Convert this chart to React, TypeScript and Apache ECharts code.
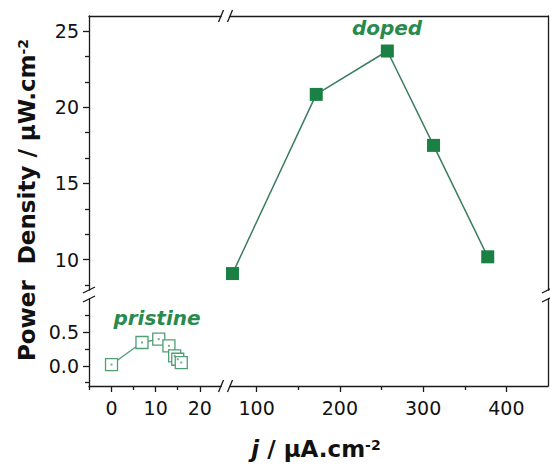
import React, { useEffect, useRef } from 'react';
import * as echarts from 'echarts';

// ---- data ----
const pristineJ = [0, 6.9, 10.7, 13.0, 14.3, 15.0, 15.8];
const pristineP = [0.02, 0.35, 0.4, 0.3, 0.15, 0.1, 0.05];
const dopedJ = [71, 171.6, 257, 312.5, 377.6];
const dopedP = [9.08, 20.85, 23.7, 17.5, 10.18];

// ---- ticks ----
const lowXMajor = [0, 10, 20];
const lowXMinor = [-5, 5, 15];
const highXMajor = [100, 200, 300, 400];
const highXMinor = [150, 250, 350];
const lowYMajor = [0, 0.5];
const lowYMinor = [-0.25, 0.25, 0.75];
const highYMajor = [10, 15, 20, 25];
const highYMinor = [8.333, 11.667, 13.333, 16.667, 18.333, 21.667, 23.333];

const FONT = 'DejaVu Sans';
const AX = '#1a1a1a';
const DOPED_FILL = '#1a8043';
const DOPED_LINE = '#3b7d5f';
const PRIS = '#4f9e74';
const TEXT_GREEN = '#2a8a4e';

// layout (pixels)
const L = 89, R = 548, T = 16, B = 386;
const XB1 = 221, XB2 = 230; // x break
const YB1 = 290, YB2 = 299; // y break

function ax(o: any) {
  return {
    type: 'value',
    min: o.min,
    max: o.max,
    gridIndex: o.grid,
    position: o.pos,
    offset: o.offset || 0,
    axisLine: { show: !!o.line, onZero: false, lineStyle: { color: AX, width: 1.3 } },
    axisTick: o.ticks
      ? { show: true, inside: false, length: o.len, customValues: o.ticks, lineStyle: { color: AX, width: 1.3 } }
      : { show: false },
    axisLabel: o.labels
      ? {
          show: true,
          customValues: o.labels,
          color: '#111',
          fontFamily: FONT,
          fontSize: 19,
          margin: o.margin || 10,
          formatter: o.fmt,
        }
      : { show: false },
    splitLine: { show: false },
    minorTick: { show: false },
    minorSplitLine: { show: false },
  };
}

export default function App() {
  const ref = useRef<HTMLDivElement>(null);
  useEffect(() => {
    if (!ref.current) return;
    const chart = echarts.init(ref.current, undefined, { renderer: 'svg' });
    const lowX = { min: -5.1, max: 24.8 };
    const highX = { min: 68, max: 450 };
    const lowY = { min: -0.3, max: 1.0 };
    const highY = { min: 8, max: 26 };

    const slashV = (cx: number, cy: number) => ({
      type: 'line',
      shape: { x1: cx - 2.5, y1: cy + 6, x2: cx + 2.5, y2: cy - 6 },
      style: { stroke: AX, lineWidth: 1.3 },
    });
    const slashH = (cx: number, cy: number) => ({
      type: 'line',
      shape: { x1: cx - 6, y1: cy + 3, x2: cx + 6, y2: cy - 3 },
      style: { stroke: AX, lineWidth: 1.3 },
    });

    chart.setOption({
      animation: false,
      backgroundColor: '#fff',
      grid: [
        { left: L, top: YB2, width: XB1 - L, height: B - YB2 },
        { left: XB2, top: T, width: R - XB2, height: YB1 - T },
      ],
      xAxis: [
        ax({ ...lowX, grid: 0, pos: 'bottom', line: true, ticks: lowXMajor, len: 6, labels: lowXMajor, margin: 12 }),
        ax({ ...lowX, grid: 0, pos: 'bottom', ticks: lowXMinor, len: 4 }),
        ax({ ...lowX, grid: 0, pos: 'top', offset: YB2 - T, line: true }),
        ax({ ...highX, grid: 1, pos: 'bottom', offset: B - YB1, line: true, ticks: highXMajor, len: 6, labels: highXMajor, margin: 12 }),
        ax({ ...highX, grid: 1, pos: 'bottom', offset: B - YB1, ticks: highXMinor, len: 4 }),
        ax({ ...highX, grid: 1, pos: 'top', line: true }),
      ],
      yAxis: [
        ax({ ...lowY, grid: 0, pos: 'left', line: true, ticks: lowYMajor, len: 6, labels: lowYMajor, margin: 10, fmt: (v: number) => v.toFixed(1) }),
        ax({ ...lowY, grid: 0, pos: 'left', ticks: lowYMinor, len: 4 }),
        ax({ ...lowY, grid: 0, pos: 'right', offset: R - XB1, line: true }),
        ax({ ...highY, grid: 1, pos: 'left', offset: XB2 - L, line: true, ticks: highYMajor, len: 6, labels: highYMajor, margin: 10 }),
        ax({ ...highY, grid: 1, pos: 'left', offset: XB2 - L, ticks: highYMinor, len: 4 }),
        ax({ ...highY, grid: 1, pos: 'right', line: true }),
      ],
      series: [
        {
          type: 'line',
          xAxisIndex: 0,
          yAxisIndex: 0,
          data: pristineJ.map((x, i) => [x, pristineP[i]]),
          symbol: 'rect',
          symbolSize: 12,
          showSymbol: true,
          clip: false,
          lineStyle: { color: PRIS, width: 1.3 },
          itemStyle: { color: '#fff', borderColor: PRIS, borderWidth: 1.3 },
          z: 3,
        },
        {
          type: 'scatter',
          xAxisIndex: 0,
          yAxisIndex: 0,
          data: pristineJ.map((x, i) => [x, pristineP[i]]),
          symbol: 'rect',
          symbolSize: 2,
          itemStyle: { color: PRIS },
          clip: false,
          z: 4,
        },
        {
          type: 'line',
          xAxisIndex: 3,
          yAxisIndex: 3,
          data: dopedJ.map((x, i) => [x, dopedP[i]]),
          symbol: 'rect',
          symbolSize: 13,
          showSymbol: true,
          clip: false,
          lineStyle: { color: DOPED_LINE, width: 1.5 },
          itemStyle: { color: DOPED_FILL, borderColor: DOPED_FILL, borderWidth: 0 },
          z: 3,
        },
      ],
      graphic: [
        slashV(XB1, T), slashV(XB2, T),
        slashV(XB1, B), slashV(XB2, B),
        slashH(L, YB1), slashH(L, YB2),
        slashH(R, YB1), slashH(R, YB2),
        {
          type: 'text',
          x: 27,
          y: 200,
          rotation: Math.PI / 2,
          style: {
            text: 'Power  Density / μW.cm{sup|-2}',
            fill: '#111',
            fontFamily: FONT,
            fontSize: 23,
            fontWeight: 'bold',
            align: 'center',
            verticalAlign: 'middle',
            rich: {
              sup: { fontFamily: FONT, fontSize: 14, fontWeight: 'bold', fill: '#111', verticalAlign: 'top', padding: [0, 0, 9, 0] },
            },
          },
        },
        {
          type: 'text',
          x: 316,
          y: 449,
          style: {
            text: '{i|j} / μA.cm{sup|-2}',
            fill: '#111',
            fontFamily: FONT,
            fontSize: 23,
            fontWeight: 'bold',
            align: 'center',
            verticalAlign: 'middle',
            rich: {
              i: { fontFamily: FONT, fontSize: 23, fontWeight: 'bold', fontStyle: 'italic', fill: '#111' },
              sup: { fontFamily: FONT, fontSize: 14, fontWeight: 'bold', fill: '#111', verticalAlign: 'top', padding: [0, 0, 9, 0] },
            },
          },
        },
        {
          type: 'text',
          x: 387,
          y: 28,
          style: {
            text: 'doped',
            fill: TEXT_GREEN,
            fontFamily: FONT,
            fontSize: 20,
            fontWeight: 'bold',
            fontStyle: 'italic',
            align: 'center',
            verticalAlign: 'middle',
          },
        },
        {
          type: 'text',
          x: 157,
          y: 318,
          style: {
            text: 'pristine',
            fill: TEXT_GREEN,
            fontFamily: FONT,
            fontSize: 20,
            fontWeight: 'bold',
            fontStyle: 'italic',
            align: 'center',
            verticalAlign: 'middle',
          },
        },
      ],
    });
    return () => chart.dispose();
  }, []);
  return (
    <div
      ref={ref}
      style={{ position: 'fixed', left: 0, top: 0, width: 550, height: 465, background: '#fff' }}
    />
  );
}
